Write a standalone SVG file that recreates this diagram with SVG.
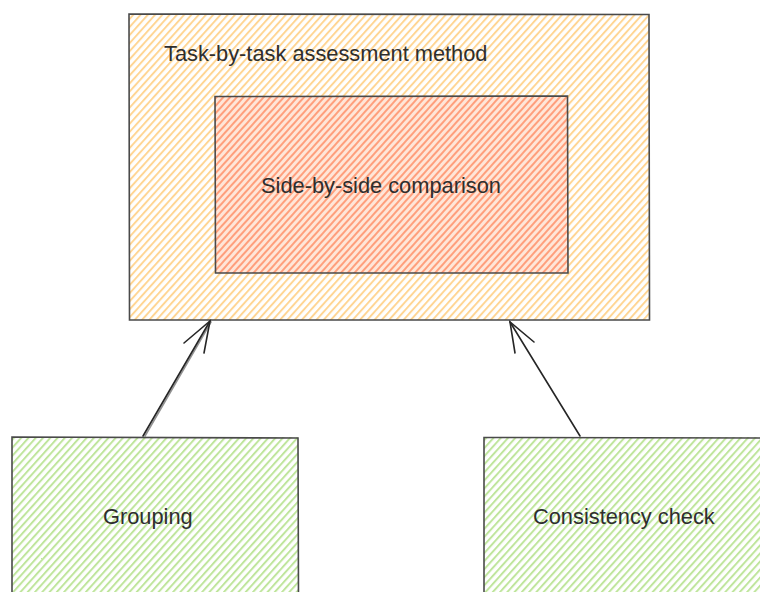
<svg xmlns="http://www.w3.org/2000/svg" width="760" height="592" viewBox="0 0 760 592">
  <style>
    .box { stroke: #4a4a4a; stroke-width: 1.6; }
    .label { font-family: "Liberation Sans", Arial, sans-serif; font-size: 21.8px; fill: #2e2e2e; }
    .edge { stroke: #262626; stroke-width: 1.6; fill: none; stroke-linecap: round; }
  </style>
  <defs>
    <!-- hand-drawn style hachure fills -->
    <pattern id="hatch-orange" patternUnits="userSpaceOnUse" width="5.4" height="5.4" patternTransform="rotate(42)">
      <line x1="1" y1="0" x2="1" y2="5.4" stroke="#ffd48f" stroke-width="1.9"/>
    </pattern>
    <pattern id="hatch-salmon" patternUnits="userSpaceOnUse" width="5" height="5" patternTransform="rotate(42)">
      <rect width="5" height="5" fill="#ffe6d8"/>
      <line x1="1" y1="0" x2="1" y2="5" stroke="#ff9f7c" stroke-width="2"/>
    </pattern>
    <pattern id="hatch-green" patternUnits="userSpaceOnUse" width="5.4" height="5.4" patternTransform="rotate(42)">
      <line x1="1" y1="0" x2="1" y2="5.4" stroke="#bfe59c" stroke-width="2"/>
    </pattern>
  </defs>

  <g id="assessment-method">
    <rect x="129" y="14" width="520" height="306" fill="url(#hatch-orange)"/>
    <path class="box" fill="none" d="M129 14 L649 14.5 L649.5 320 L129.5 320 Z"/>
    <text class="label" x="164" y="61">Task-by-task assessment method</text>
  </g>

  <g id="side-by-side">
    <rect x="215" y="96" width="353" height="177" fill="url(#hatch-salmon)"/>
    <path class="box" fill="none" d="M215 96.5 L567.5 96 L568 273 L215.5 273 Z"/>
    <text class="label" x="261" y="193">Side-by-side comparison</text>
  </g>

  <g id="grouping">
    <rect x="12" y="437" width="286" height="160" fill="url(#hatch-green)"/>
    <path class="box" fill="none" d="M12 600 L12 437 L298 438 L298.5 600"/>
    <text class="label" x="103" y="524">Grouping</text>
  </g>

  <g id="consistency-check">
    <rect x="484" y="437" width="290" height="160" fill="url(#hatch-green)"/>
    <path class="box" fill="none" d="M484 600 L484 437.5 L770 438"/>
    <text class="label" x="533" y="524">Consistency check</text>
  </g>

  <g id="connectors">
    <path class="edge" d="M143 436 L210 321"/>
    <path class="edge" d="M145 436 L211 322" stroke-opacity="0.5"/>
    <path class="edge" d="M184 343 L210 321 L204 353"/>
    <path class="edge" d="M580 436 L510 322"/>
    <path class="edge" d="M534 342 L510 322 L515 353"/>
  </g>
</svg>
